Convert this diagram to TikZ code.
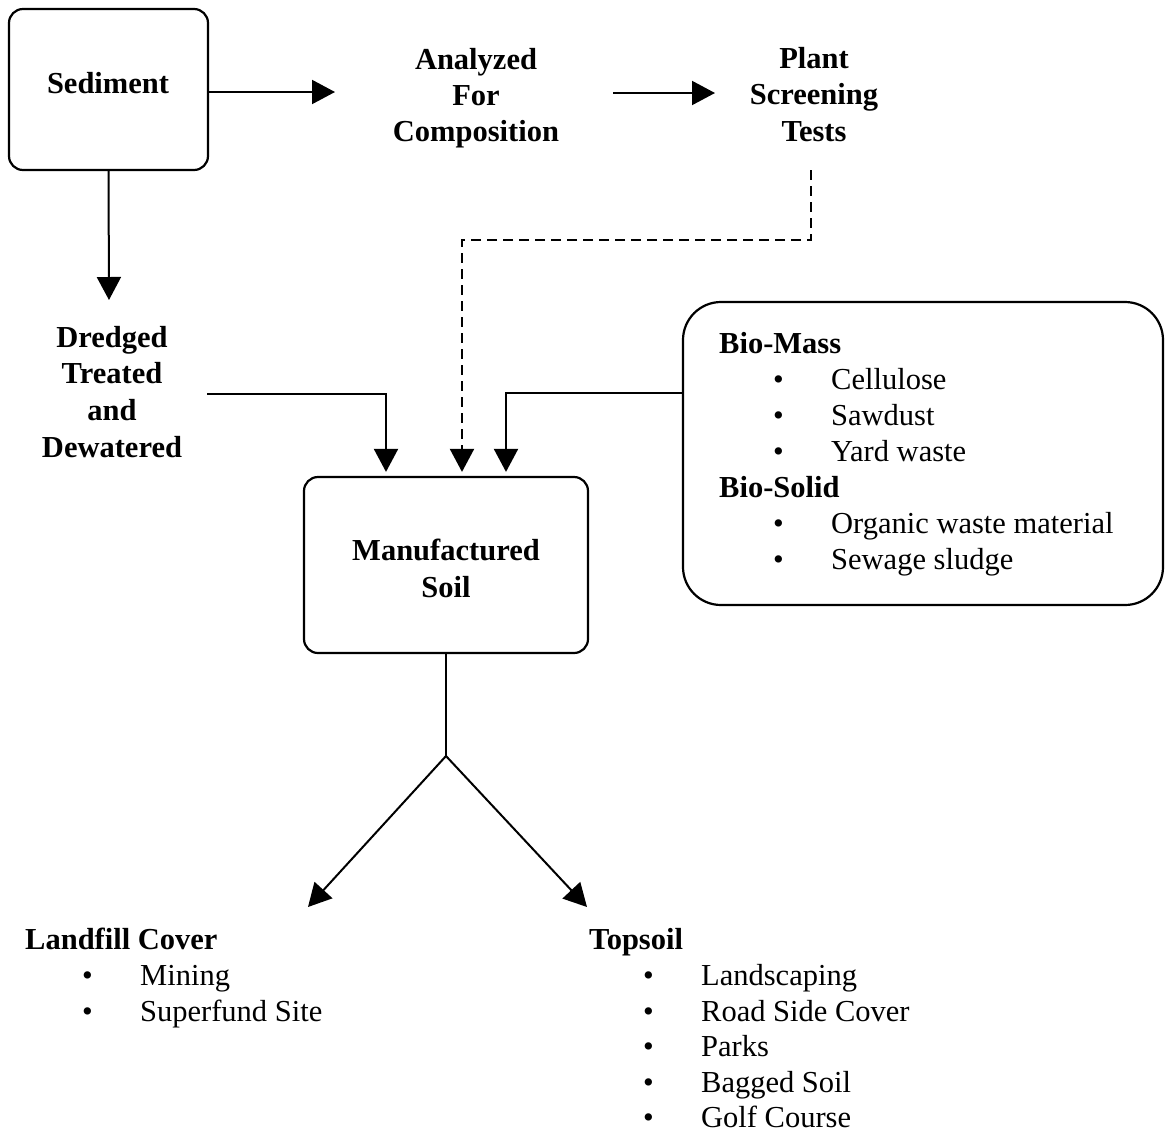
\documentclass[tikz,border=0pt]{standalone}
\usepackage{fontspec}
\setmainfont{Liberation Serif}
\usetikzlibrary{arrows.meta}
\newcommand\flowfont{\fontsize{30.5}{36}\selectfont}
\begin{document}
\begin{tikzpicture}[x=1pt,y=-1pt,
  box/.style={draw, line width=2.2pt, rounded corners=14pt, inner sep=0pt},
  bigbox/.style={draw, line width=2.2pt, rounded corners=38pt, inner sep=0pt},
  head/.style={font=\flowfont\bfseries, inner sep=0pt, anchor=base},
  title/.style={font=\flowfont\bfseries, inner sep=0pt, anchor=base west},
  item/.style={font=\flowfont, inner sep=0pt, anchor=base west},
  arr/.style={line width=2pt, -{Triangle[length=23pt,width=24pt]}},
  link/.style={line width=2pt},
  dashlink/.style={line width=2pt, dash pattern=on 10pt off 6pt,
                   -{Triangle[length=23pt,width=24pt]}}]
\useasboundingbox (0,0) rectangle (1165,1133);
\newcommand\bul[1]{\makebox[58pt][l]{•}#1}

% boxes
\node[box, minimum width=199pt, minimum height=161pt] (sed) at (108.5,89.5) {};
\node[head] (sedtxt) at (108,93) {Sediment};

\node[box, minimum width=284pt, minimum height=176pt] (ms) at (446,565) {};
\node[head] (ms1) at (446,560) {Manufactured};
\node[head] (ms2) at (446,597) {Soil};

\node[bigbox, minimum width=480pt, minimum height=303pt] (bio) at (923,453.5) {};
\node[title] (bm) at (719,353) {Bio-Mass};
\node[item] (bm1) at (773,389) {\bul{Cellulose}};
\node[item] (bm2) at (773,425) {\bul{Sawdust}};
\node[item] (bm3) at (773,461) {\bul{Yard waste}};
\node[title] (bs) at (719,497) {Bio-Solid};
\node[item] (bs1) at (773,533) {\bul{Organic waste material}};
\node[item] (bs2) at (773,569) {\bul{Sewage sludge}};

% free-standing labels
\node[head] (ana1) at (476,69) {Analyzed};
\node[head] (ana2) at (476,105) {For};
\node[head] (ana3) at (476,141) {Composition};

\node[head] (pl1) at (814,68) {Plant};
\node[head] (pl2) at (814,104.5) {Screening};
\node[head] (pl3) at (814,141) {Tests};

\node[head] (dr1) at (112,347) {Dredged};
\node[head] (dr2) at (112,383) {Treated};
\node[head] (dr3) at (112,420) {and};
\node[head] (dr4) at (112,457) {Dewatered};

\node[title] (lf) at (25,949) {Landfill Cover};
\node[item] (lf1) at (82,985) {\bul{Mining}};
\node[item] (lf2) at (82,1021) {\bul{Superfund Site}};

\node[title] (ts) at (589,949) {Topsoil};
\node[item] (ts1) at (643,985) {\bul{Landscaping}};
\node[item] (ts2) at (643,1021) {\bul{Road Side Cover}};
\node[item] (ts3) at (643,1056.5) {\bul{Parks}};
\node[item] (ts4) at (643,1092) {\bul{Bagged Soil}};
\node[item] (ts5) at (643,1127.5) {\bul{Golf Course}};

% connector end points
\coordinate (toana) at (335,92);
\coordinate (anaout) at (613,93);
\coordinate (topl) at (715,93);
\coordinate (todr) at (109,300);
\coordinate (drout) at (207,394);
\coordinate (plout) at (811,170);
\coordinate (plturn) at (811,240);
\coordinate (bioout) at (683,393);
\coordinate (split) at (446,756);
\coordinate (tolf) at (308,907);
\coordinate (tots) at (587,907);

% connectors
\draw[arr] ([yshift=-2.5pt]sed.east) -- (toana);
\draw[arr] (anaout) -- (topl);
\draw[arr] (sed.south) -- (todr);
\draw[arr] (drout) -| ([xshift=-60pt,yshift=4pt]ms.north);
\draw[dashlink] (plout) -- (plturn) -| ([xshift=16pt,yshift=4pt]ms.north);
\draw[arr] (bioout) -| ([xshift=60pt,yshift=4pt]ms.north);
\draw[link] (ms.south) -- (split);
\draw[arr] (split) -- (tolf);
\draw[arr] (split) -- (tots);
\end{tikzpicture}
\end{document}
